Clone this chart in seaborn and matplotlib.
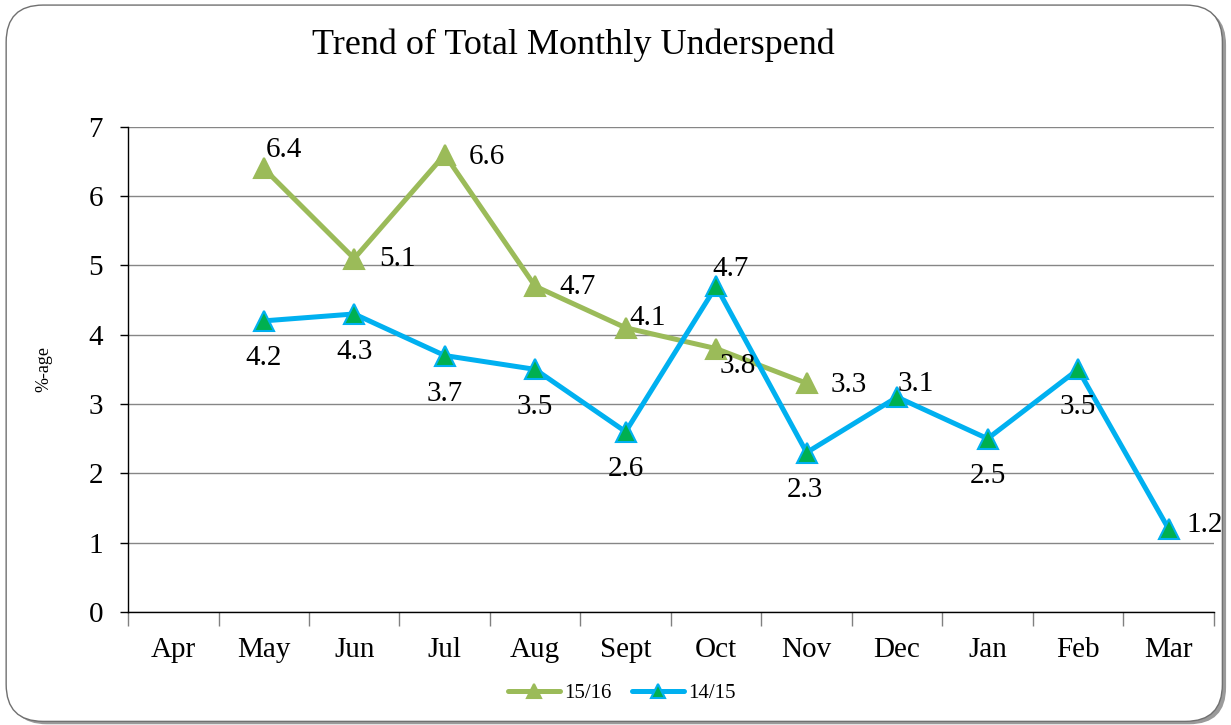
import numpy as np
import pandas as pd
import matplotlib
matplotlib.use("Agg")
import matplotlib.pyplot as plt
import seaborn as sns
from matplotlib.patches import FancyBboxPatch

months = ["Apr", "May", "Jun", "Jul", "Aug", "Sept", "Oct", "Nov", "Dec", "Jan", "Feb", "Mar"]
s1516 = [np.nan, 6.4, 5.1, 6.6, 4.7, 4.1, 3.8, 3.3, np.nan, np.nan, np.nan, np.nan]
s1415 = [np.nan, 4.2, 4.3, 3.7, 3.5, 2.6, 4.7, 2.3, 3.1, 2.5, 3.5, 1.2]
series_names = ["15/16", "14/15"]

# label offsets in pixels (dx, dy, ha)
off1516 = [None, (2, 18, "left"), (25, 0, "left"), (24, -2, "left"), (24, -1, "left"),
           (4, 10, "left"), (3, -17, "left"), (24, -2, "left"), None, None, None, None]
off1415 = [None, (0, -37, "center"), (0, -38, "center"), (0, -38, "center"), (0, -38, "center"),
           (0, -37, "center"), (-4, 17, "left"), (-2, -37, "center"), (0, 13, "left"),
           (0, -37, "center"), (0, -38, "center"), (18, 4, "left")]

sns.set_theme(style="white")
plt.rcParams["font.family"] = ["Liberation Serif", "DejaVu Serif"]
plt.rcParams["text.color"] = "black"
plt.rcParams["xtick.color"] = "black"
plt.rcParams["ytick.color"] = "black"
plt.rcParams["axes.labelcolor"] = "black"

fig = plt.figure(figsize=(12.31, 7.25), dpi=100)

# rounded border with shadow
shadow = FancyBboxPatch((0.008, 0.001), 0.988, 0.988, boxstyle="round,pad=0,rounding_size=0.03",
                        transform=fig.transFigure, facecolor="#9a9a9a", edgecolor="none",
                        mutation_aspect=1.7, zorder=-2)
border = FancyBboxPatch((0.005, 0.005), 0.988, 0.988, boxstyle="round,pad=0,rounding_size=0.03",
                        transform=fig.transFigure, facecolor="white", edgecolor="#707070",
                        linewidth=1.0, mutation_aspect=1.7, zorder=-1)
fig.patches.extend([shadow, border])

ax = fig.add_axes([0.104, 0.156, 0.882, 0.669])
ax.set_zorder(1)
ax.set_facecolor("none")

x = np.arange(len(months))
df = pd.DataFrame({"x": np.concatenate([x, x]),
                   "v": s1516 + s1415,
                   "s": [series_names[0]] * len(x) + [series_names[1]] * len(x)})

line_cols = {"15/16": "#9BBB59", "14/15": "#00B0F0"}
mk_face = {"15/16": "#9BBB59", "14/15": "#00B050"}
for name in series_names:
    sub = df[df["s"] == name].dropna()
    sns.lineplot(data=sub, x="x", y="v", ax=ax, color=line_cols[name], linewidth=3.6,
                 marker="^", markersize=14, markerfacecolor=mk_face[name],
                 markeredgecolor=line_cols[name], markeredgewidth=1.5, label=name,
                 zorder=3, solid_capstyle="round", legend=False)

for vals, offs in [(s1516, off1516), (s1415, off1415)]:
    for i, (v, o) in enumerate(zip(vals, offs)):
        if o is None or np.isnan(v):
            continue
        ax.annotate(f"{v:.1f}", (x[i], v), xytext=(o[0], o[1]), textcoords="offset pixels",
                    ha=o[2], va="center", fontsize=21, color="black", zorder=4)

ax.set_xlim(-0.5, len(months) - 0.5)
ax.set_ylim(0, 7)
ax.set_yticks(range(0, 8))
ax.set_xticks(x)
ax.set_xticklabels(months)
ax.set_xticks(np.arange(-0.5, len(months), 1.0), minor=True)
ax.tick_params(axis="x", which="major", length=0, pad=18, labelsize=21)
ax.tick_params(axis="x", which="minor", length=10, width=1, color="#808080", direction="out", bottom=True)
ax.tick_params(axis="y", which="major", length=6, width=1, color="black", direction="out",
               left=True, pad=12, labelsize=21)
ax.yaxis.grid(True, color="#868686", linewidth=1)
ax.xaxis.grid(False)
for sp in ["top", "right"]:
    ax.spines[sp].set_visible(False)
ax.spines["left"].set_color("black")
ax.spines["bottom"].set_color("black")
ax.spines["left"].set_linewidth(1)
ax.spines["bottom"].set_linewidth(1)
ax.set_xlabel("")
ax.set_ylabel("%-age", fontsize=13, labelpad=26)

fig.text(0.466, 0.938, "Trend of Total Monthly Underspend", ha="center", va="center", fontsize=26)

handles = ax.get_lines()[:2]
leg = fig.legend(handles, series_names, loc="center", bbox_to_anchor=(0.505, 0.044), ncol=2,
                 frameon=False, fontsize=15, handlelength=2.5, columnspacing=1.0, handletextpad=0.2)
for h in leg.legend_handles:
    h.set_markersize(10)

fig.savefig("out.png", dpi=100)
